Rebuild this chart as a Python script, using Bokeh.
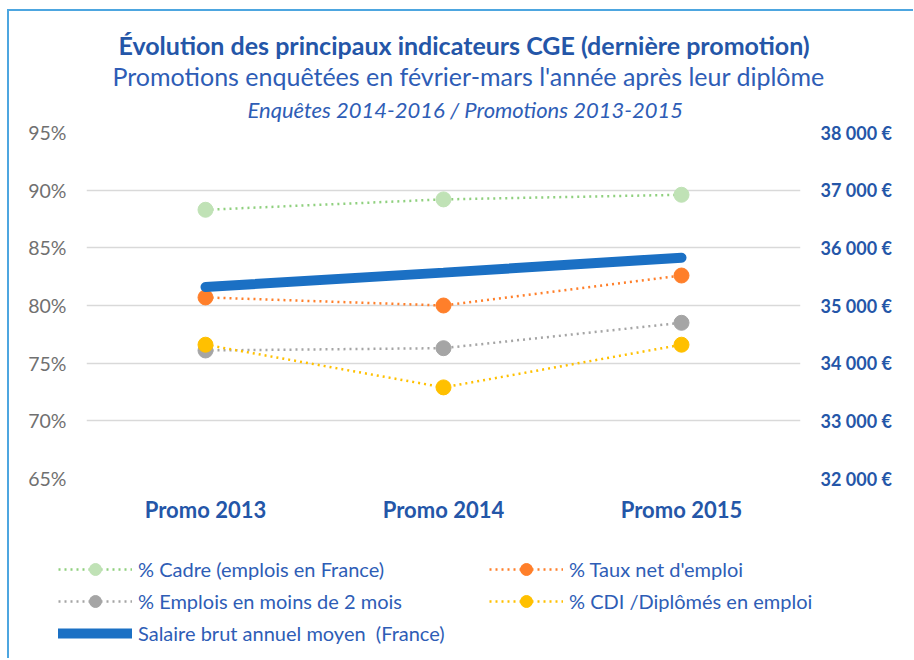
from bokeh.plotting import figure
from bokeh.layouts import column, row
from bokeh.models import (Range1d, FactorRange, LinearAxis, FixedTicker, Legend,
                          LegendItem, Title, ColumnDataSource)
from bokeh.embed import file_html
from bokeh.resources import INLINE

promos = ["Promo 2013", "Promo 2014", "Promo 2015"]
cadre = [88.3, 89.2, 89.6]
taux_net = [80.7, 80.0, 82.6]
emplois_2mois = [76.1, 76.3, 78.5]
cdi = [76.6, 72.9, 76.6]
salaire = [35320, 35570, 35830]

pct_ticks = [65, 70, 75, 80, 85, 90, 95]
pct_labels = ["65%", "70%", "75%", "80%", "85%", "90%", "95%"]
eur_ticks = [32000, 33000, 34000, 35000, 36000, 37000, 38000]
eur_labels = ["32 000 €", "33 000 €", "34 000 €", "35 000 €", "36 000 €", "37 000 €", "38 000 €"]

names = ["% Cadre (emplois en France)", "% Taux net d'emploi",
         "% Emplois en moins de 2 mois", "% CDI /Diplômés en emploi",
         "Salaire brut annuel moyen  (France)"]

FONT = "Lato"
DARK = "#2456A8"
MID = "#2E5DB6"

src = ColumnDataSource(dict(promo=promos, cadre=cadre, taux=taux_net,
                            emplois=emplois_2mois, cdi=cdi, sal=salaire))

p = figure(width=904, height=529, x_range=FactorRange(factors=promos, range_padding=0),
           y_range=Range1d(65, 95), output_backend="svg", toolbar_location=None,
           min_border_left=77, min_border_right=113, min_border_top=121,
           min_border_bottom=62)
p.outline_line_color = None
p.background_fill_color = "white"
p.border_fill_color = "white"
p.extra_y_ranges = {"eur": Range1d(32000, 38000)}

# titles (first added = closest to plot)
p.add_layout(Title(text="Enquêtes 2014-2016 / Promotions 2013-2015", align="left",
                   text_font=FONT, text_font_style="italic", text_font_size="22px",
                   text_line_height=1.0, text_color=MID, offset=161, standoff=19), "above")
p.add_layout(Title(text="Promotions enquêtées en février-mars l'année après leur diplôme",
                   align="left", text_font=FONT, text_font_style="normal",
                   text_font_size="25px", text_color=MID, offset=26, standoff=-12), "above")
p.add_layout(Title(text="Évolution des principaux indicateurs CGE (dernière promotion)",
                   align="left", text_font=FONT, text_font_style="bold",
                   text_font_size="25px", text_color=DARK, offset=32, standoff=9), "above")

# axes
p.xaxis.axis_line_color = None
p.xaxis.major_tick_line_color = None
p.xaxis.minor_tick_line_color = None
p.xaxis.major_label_text_font = FONT
p.xaxis.major_label_text_font_style = "bold"
p.xaxis.major_label_text_font_size = "22px"
p.xaxis.major_label_text_color = DARK
p.xaxis.major_label_standoff = 11

p.yaxis.axis_line_color = None
p.yaxis.major_tick_line_color = None
p.yaxis.minor_tick_line_color = None
p.yaxis.ticker = FixedTicker(ticks=pct_ticks)
p.yaxis.major_label_overrides = dict(zip(pct_ticks, pct_labels))
p.yaxis.major_label_text_font = FONT
p.yaxis.major_label_text_font_size = "19.5px"
p.yaxis.major_label_text_color = "#707070"
p.yaxis.major_label_standoff = 14

ax_r = LinearAxis(y_range_name="eur", ticker=FixedTicker(ticks=eur_ticks),
                  major_label_overrides=dict(zip(eur_ticks, eur_labels)))
ax_r.axis_line_color = None
ax_r.major_tick_line_color = None
ax_r.minor_tick_line_color = None
ax_r.major_label_text_font = FONT
ax_r.major_label_text_font_style = "bold"
ax_r.major_label_text_font_size = "18px"
ax_r.major_label_text_color = DARK
ax_r.major_label_standoff = 14
p.add_layout(ax_r, "right")

p.xgrid.grid_line_color = None
p.ygrid.ticker = FixedTicker(ticks=pct_ticks)
p.ygrid.grid_line_color = "#D9D9D9"
p.ygrid.grid_line_width = 1.5

series = [("cadre", "#8FD07E", "#C0E2B6"), ("taux", "#FF7F2A", "#FF7F2A"),
          ("emplois", "#A5A5A5", "#A5A5A5"), ("cdi", "#FFC000", "#FFC000")]
for col, lc, mc in series:
    p.line("promo", col, source=src, line_color=lc, line_width=2.5, line_dash="2 4")
    p.scatter("promo", col, source=src, size=15, fill_color=mc, line_color=mc)
p.line("promo", "sal", source=src, y_range_name="eur", line_color="#1B70C4",
       line_width=10, line_cap="round")

# legend panel (separate figure below the chart, same data and styles)
lf = figure(width=904, height=118, x_range=FactorRange(factors=promos),
            y_range=Range1d(0, 1), output_backend="svg", toolbar_location=None,
            x_axis_type=None, y_axis_type=None, min_border=0,
            min_border_left=0, min_border_right=0, min_border_top=0,
            min_border_bottom=0)
lf.outline_line_color = None
lf.xgrid.visible = False
lf.ygrid.visible = False
items = []
for (col, lc, mc), nm in zip(series, names[:4]):
    ln = lf.line("promo", col, source=src, line_color=lc, line_width=2.5,
                 line_dash="2 4", visible=False)
    sc = lf.scatter("promo", col, source=src, size=15, fill_color=mc, line_color=mc,
                    visible=False)
    items.append(LegendItem(label=nm, renderers=[ln, sc]))
sl = lf.line("promo", "sal", source=src, line_color="#1B70C4", line_width=10,
             line_cap="round", visible=False)
items.append(LegendItem(label=names[4], renderers=[sl]))

leg = Legend(items=items, orientation="horizontal", ncols=2, location=(49, 10),
             glyph_width=74, glyph_height=30, label_height=30, label_width=349,
             label_standoff=6, spacing=2, padding=0, margin=0,
             border_line_color=None, background_fill_alpha=0,
             label_text_font=FONT, label_text_font_size="20px", label_text_color=MID)
lf.add_layout(leg, "center")

layout = column(p, row(lf), spacing=0)
layout.styles = {"border-left": "2px solid #4DA6E0", "border-top": "2px solid #4DA6E0",
                 "margin-left": "7px", "margin-top": "9px"}

open("out.html", "w").write(file_html(layout, INLINE))
